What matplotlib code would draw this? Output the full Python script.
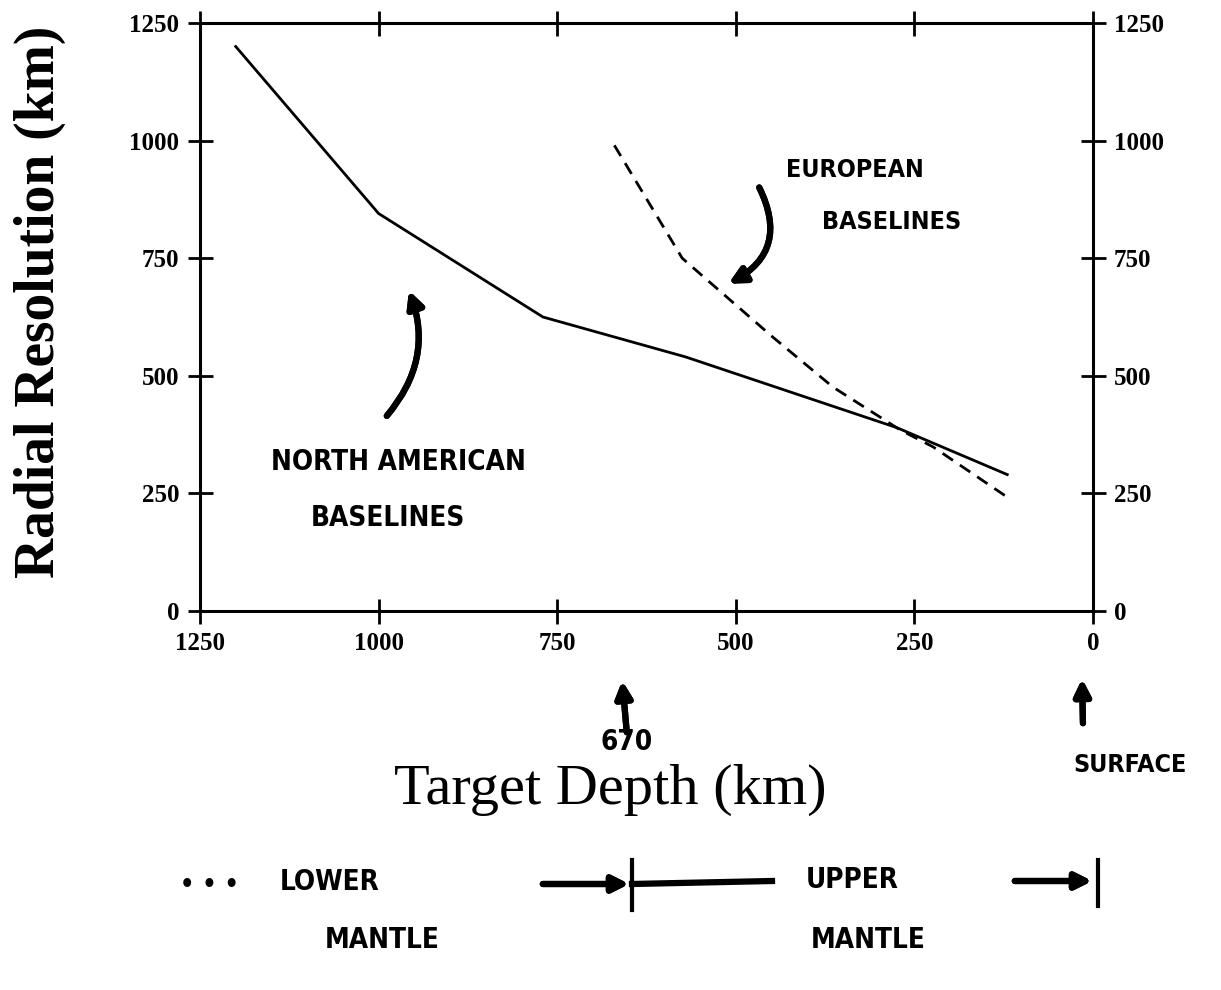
import matplotlib.pyplot as plt

# data
na_depth = [1200, 1000, 770, 570, 275, 120]
na_res = [1200, 845, 625, 540, 390, 290]

eu_depth = [670, 575, 532, 448, 364, 270, 224, 120]
eu_res = [990, 750, 693, 582, 476, 385, 349, 242]

ticks = [0, 250, 500, 750, 1000, 1250]

W, H = 1221, 990


def fx(px):
    return px / W


def fy(py):
    return 1 - py / H


fig = plt.figure(figsize=(12.21, 9.9), dpi=100)
ax = fig.add_axes([fx(200), fy(611), fx(1093) - fx(200), fy(23) - fy(611)])

ax.plot(na_depth, na_res, color="black", lw=2)
ax.plot(eu_depth, eu_res, color="black", lw=2, dashes=(4.5, 3))

ax.set_xlim(1250, 0)
ax.set_ylim(0, 1250)
ax.set_xticks(ticks)
ax.set_yticks(ticks)
for s in ax.spines.values():
    s.set_linewidth(2.2)
ax.tick_params(direction="inout", length=18, width=2, top=True, right=True,
               labelright=True, labelsize=18, pad=6)
for lab in ax.get_xticklabels() + ax.get_yticklabels():
    lab.set_fontfamily("Liberation Serif")
    lab.set_fontweight("bold")
for lab in ax.yaxis.get_ticklabels(which="both"):
    lab.set_fontfamily("Liberation Serif")
    lab.set_fontweight("bold")
ax.tick_params(axis="y", which="both", labelright=True)

fig.text(fx(40), fy(302), "Radial Resolution (km)", rotation=90, ha="center",
         va="center", fontsize=40, fontfamily="Liberation Serif", fontweight="bold")
fig.text(fx(610), fy(790), "Target Depth (km)", ha="center", va="center",
         fontsize=42, fontfamily="Liberation Serif")

# handwritten notes
hand = dict(fontfamily="DejaVu Sans", fontweight="heavy", color="black",
            fontstretch="condensed")
fig.text(fx(398), fy(462), "NORTH AMERICAN", ha="center", va="center", fontsize=20, **hand)
fig.text(fx(388), fy(518), "BASELINES", ha="center", va="center", fontsize=20, **hand)
fig.text(fx(855), fy(170), "EUROPEAN", ha="center", va="center", fontsize=18, **hand)
fig.text(fx(892), fy(222), "BASELINES", ha="center", va="center", fontsize=18, **hand)

arrow = dict(arrowstyle="-|>", color="black", lw=4.5, mutation_scale=24)
fig.add_artist(plt.annotate("", xy=(fx(408), fy(288)), xytext=(fx(385), fy(418)),
                            xycoords="figure fraction", textcoords="figure fraction",
                            arrowprops=dict(connectionstyle="arc3,rad=0.3", **arrow)))
fig.add_artist(plt.annotate("", xy=(fx(726), fy(285)), xytext=(fx(758), fy(185)),
                            xycoords="figure fraction", textcoords="figure fraction",
                            arrowprops=dict(connectionstyle="arc3,rad=-0.5", **arrow)))
fig.add_artist(plt.annotate("", xy=(fx(622), fy(678)), xytext=(fx(627), fy(735)),
                            xycoords="figure fraction", textcoords="figure fraction",
                            arrowprops=arrow))
fig.add_artist(plt.annotate("", xy=(fx(1082), fy(676)), xytext=(fx(1083), fy(726)),
                            xycoords="figure fraction", textcoords="figure fraction",
                            arrowprops=arrow))
fig.text(fx(627), fy(742), "670", ha="center", va="center", fontsize=20, **hand)
fig.text(fx(1130), fy(765), "SURFACE", ha="center", va="center", fontsize=18, **hand)

fig.text(fx(180), fy(885), "• • •", ha="left", va="center", fontsize=18, **hand)
fig.text(fx(280), fy(882), "LOWER", ha="left", va="center", fontsize=20, **hand)
fig.text(fx(382), fy(940), "MANTLE", ha="center", va="center", fontsize=20, **hand)
fig.text(fx(852), fy(880), "UPPER", ha="center", va="center", fontsize=20, **hand)
fig.text(fx(868), fy(940), "MANTLE", ha="center", va="center", fontsize=20, **hand)

fig.add_artist(plt.annotate("", xy=(fx(632), fy(884)), xytext=(fx(540), fy(884)),
                            xycoords="figure fraction", textcoords="figure fraction",
                            arrowprops=arrow))
fig.add_artist(plt.Line2D([fx(632), fx(772)], [fy(884), fy(881)], color="black", lw=4.5))
fig.add_artist(plt.Line2D([fx(632), fx(632)], [fy(860), fy(910)], color="black", lw=3))
fig.add_artist(plt.annotate("", xy=(fx(1095), fy(881)), xytext=(fx(1012), fy(881)),
                            xycoords="figure fraction", textcoords="figure fraction",
                            arrowprops=arrow))
fig.add_artist(plt.Line2D([fx(1098), fx(1098)], [fy(860), fy(906)], color="black", lw=3))

fig.savefig("out.png", dpi=100)
